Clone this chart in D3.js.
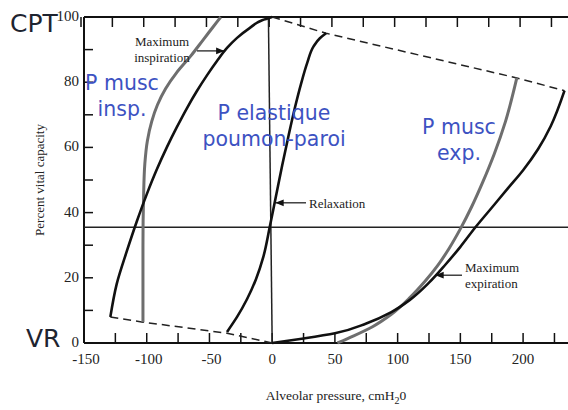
<!DOCTYPE html>
<html>
<head>
<meta charset="utf-8">
<script src="https://cdn.jsdelivr.net/npm/d3@7"></script>
<style>
body { margin:0; background:#fff; }
svg { display:block; }
</style>
</head>
<body>
<div id="chart"></div>
<script>
// tick values
var xTicks = [-150, -100, -50, 0, 50, 100, 150, 200];
var yTicks = [0, 20, 40, 60, 80, 100];

// curves: [pressure, % vital capacity]
var inspMuscle = [[-103,6.4],[-103,30],[-102.5,45],[-101.5,55],[-99.5,62],[-96,68],[-91.5,73],[-85,78],[-76,83],[-65,88],[-55,93],[-47,97],[-41,100]];
var inspMax = [[-129,8],[-124,18],[-116,28],[-108,37.2],[-100,45.6],[-92,53.2],[-84,60],[-76,66.2],[-68,72],[-60,77.3],[-52,82.1],[-44,86.5],[-36,90.5],[-28,93.6],[-18,96.6],[-8,99],[0,100]];
var relaxation = [[-36,3.4],[-28,8],[-20,13.5],[-13,19.5],[-7,26.5],[-2,35.5],[3,45],[8,54.5],[13,63.5],[18,72],[23,79.5],[28,86],[33,91],[38,93.5],[43,95]];
var expMax = [[0,0],[25,1.4],[50,3],[75,6],[95,9.5],[110,13.3],[125,18.5],[138,24],[150,29.5],[162,35.5],[175,41.5],[188,47.5],[200,53],[212,59.5],[222,66.5],[233,77.4]];
var expMuscle = [[52,0],[65,2.2],[80,5],[95,8.8],[110,14],[122,19],[132,23.8],[141,29],[150,35],[159,41.8],[168,49.5],[177,58],[186,68],[195,81.3]];
var envelopeTop = [[0,100],[43,95],[195,81.3],[233,77.4]];
var envelopeBottom = [[-129,8],[-103,6.4],[-36,3],[0,0]];
var relaxLevel = 35.5;

var W = 568, H = 410;
var svg = d3.select("#chart").append("svg")
    .attr("width", W).attr("height", H);

var x = d3.scaleLinear().domain([-150, 235]).range([84, 567]);
var y = d3.scaleLinear().domain([0, 100]).range([343, 17]);

var serif = "'Liberation Serif', 'DejaVu Serif', serif";

// frame lines (left, top, bottom)
svg.append("line").attr("x1", x(-150)).attr("x2", x(-150)).attr("y1", y(0)).attr("y2", y(100))
    .style("stroke", "#111").style("stroke-width", 2);
svg.append("line").attr("x1", x(-150)).attr("x2", W).attr("y1", y(100)).attr("y2", y(100))
    .style("stroke", "#111").style("stroke-width", 2);
svg.append("line").attr("x1", x(-150)).attr("x2", W).attr("y1", y(0)).attr("y2", y(0))
    .style("stroke", "#111").style("stroke-width", 2);

// ticks every 25 on x (bottom up, top down), every 10 on y
var xMinor = d3.range(-150, 236, 25);
svg.append("g").selectAll("line").data(xMinor).enter().append("line")
    .attr("x1", d => x(d)).attr("x2", d => x(d))
    .attr("y1", y(0)).attr("y2", y(0) - 10)
    .style("stroke", "#111").style("stroke-width", 1.5);
svg.append("g").selectAll("line").data(xMinor).enter().append("line")
    .attr("x1", d => x(d) - 3).attr("x2", d => x(d) - 3)
    .attr("y1", y(100)).attr("y2", y(100) + 10)
    .style("stroke", "#111").style("stroke-width", 1.5);
svg.append("g").selectAll("line").data(d3.range(0, 101, 10)).enter().append("line")
    .attr("x1", x(-150)).attr("x2", x(-150) + 9)
    .attr("y1", d => y(d)).attr("y2", d => y(d))
    .style("stroke", "#111").style("stroke-width", 1.5);

// tick labels
svg.append("g").selectAll("text").data(xTicks).enter().append("text")
    .attr("x", d => x(d) + (d < 0 ? 2 : 0)).attr("y", y(0) + 21)
    .attr("text-anchor", "middle")
    .style("font-family", serif).style("font-size", "15px").style("fill", "#222")
    .text(d => d < 0 ? "-" + Math.abs(d) : d);
svg.append("g").selectAll("text").data(yTicks).enter().append("text")
    .attr("x", x(-150) - 5).attr("y", d => y(d) + 4)
    .attr("text-anchor", "end")
    .style("font-family", serif).style("font-size", "15px").style("fill", "#222")
    .text(d => d);

// axis titles
svg.append("text")
    .attr("transform", "translate(44," + y(50) + ") rotate(-90)")
    .attr("text-anchor", "middle")
    .style("font-family", serif).style("font-size", "13px").style("fill", "#222")
    .text("Percent vital capacity");
var xt = svg.append("text")
    .attr("x", 336).attr("y", 400)
    .attr("text-anchor", "middle")
    .style("font-family", serif).style("font-size", "13.5px").style("fill", "#222");
xt.append("tspan").text("Alveolar pressure, cmH");
xt.append("tspan").attr("dy", 4).style("font-size", "10px").text("2");
xt.append("tspan").attr("dy", -4).text("0");

// reference lines
svg.append("line").attr("x1", x(-150)).attr("x2", W).attr("y1", y(relaxLevel)).attr("y2", y(relaxLevel))
    .style("stroke", "#222").style("stroke-width", 1.5);
svg.append("line").attr("x1", x(-3)).attr("x2", x(0)).attr("y1", y(100)).attr("y2", y(0))
    .style("stroke", "#222").style("stroke-width", 1.5);

var line = d3.line().x(d => x(d[0])).y(d => y(d[1]));
var smooth = d3.line().x(d => x(d[0])).y(d => y(d[1])).curve(d3.curveMonotoneY);

// dashed envelope
[envelopeTop, envelopeBottom].forEach(function(pts) {
    svg.append("path").attr("d", line(pts))
        .style("fill", "none").style("stroke", "#222")
        .style("stroke-width", 1.5).style("stroke-dasharray", "8,5");
});

// muscle curves (grey) and pressure curves (black)
[inspMuscle, expMuscle].forEach(function(pts) {
    svg.append("path").attr("d", smooth(pts))
        .style("fill", "none").style("stroke", "#6e6e6e").style("stroke-width", 3);
});
[inspMax, relaxation, expMax].forEach(function(pts) {
    svg.append("path").attr("d", smooth(pts))
        .style("fill", "none").style("stroke", "#111").style("stroke-width", 2.6);
});

// arrows
svg.append("defs").append("marker")
    .attr("id", "arr").attr("viewBox", "0 0 10 10")
    .attr("refX", 10).attr("refY", 5)
    .attr("markerWidth", 7).attr("markerHeight", 7)
    .attr("orient", "auto")
    .append("path").attr("d", "M0,1 L10,5 L0,9 Z").style("fill", "#111");

function arrow(x1, y1, x2, y2) {
    svg.append("line").attr("x1", x1).attr("y1", y1).attr("x2", x2).attr("y2", y2)
        .style("stroke", "#111").style("stroke-width", 1.2)
        .attr("marker-end", "url(#arr)");
}

function note(lines, cx, cy, anchor) {
    var t = svg.append("text")
        .attr("text-anchor", anchor)
        .style("font-family", serif).style("font-size", "13px").style("fill", "#222");
    lines.forEach(function(s, i) {
        t.append("tspan").attr("x", cx).attr("y", cy + i * 16).text(s);
    });
}

note(["Maximum", "inspiration"], 162, 46, "middle");
arrow(197, y(89.6), x(-38), y(89.6));

note(["Relaxation"], 309, 208, "start");
arrow(306, y(43), x(2.5), y(43));

note(["Maximum", "expiration"], 465, 272, "start");
arrow(462, y(20.8), x(130), y(20.8));

// blue overlay labels
var hand = "'DejaVu Sans', 'Noto Sans', sans-serif";
function blue(lines, cx, cy) {
    var t = svg.append("text").attr("text-anchor", "middle")
        .style("font-family", hand).style("font-size", "20.5px").style("fill", "#3d52c2");
    lines.forEach(function(s, i) {
        t.append("tspan").attr("x", cx).attr("y", cy + i * 26).text(s);
    });
}
blue(["P musc", "insp."], 122, 90);
blue(["P elastique", "poumon-paroi"], 274, 120);
blue(["P musc", "exp."], 459, 134);

// CPT / VR
svg.append("text").attr("x", 10).attr("y", 32)
    .style("font-family", hand).style("font-size", "25px").style("fill", "#1e2430")
    .text("CPT");
svg.append("text").attr("x", 26).attr("y", 347)
    .style("font-family", hand).style("font-size", "25px").style("fill", "#1e2430")
    .text("VR");
</script>
</body>
</html>
